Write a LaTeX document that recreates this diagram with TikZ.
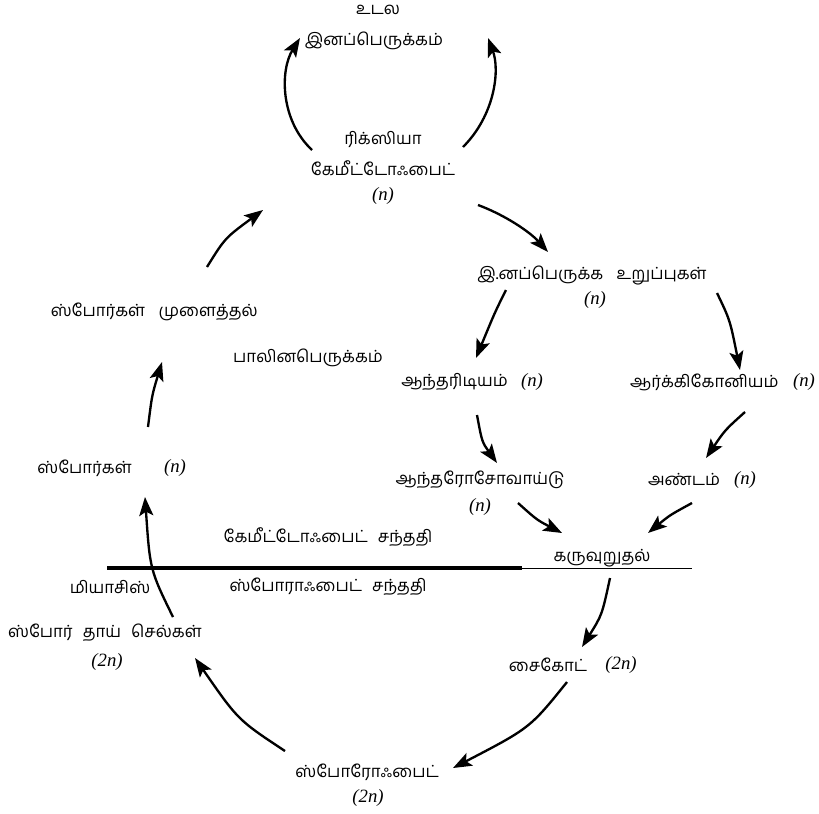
\documentclass[tikz,border=0pt]{standalone}
\usepackage{fontspec}
\setmainfont{Liberation Serif}
\newfontfamily\tamil[Script=Tamil]{Hind Madurai}
\usetikzlibrary{arrows.meta}
\tikzset{
  ta/.style={font=\tamil\fontsize{14.3}{16}\selectfont, inner sep=0pt},
  nn/.style={font=\fontsize{16}{17}\selectfont\itshape, inner sep=0pt},
  arr/.style={line width=2pt, -{Stealth[length=16pt,width=12pt,inset=3.5pt]}},
  genline/.style={line width=2.6pt},
  thinline/.style={line width=0.8pt}
}
\begin{document}
\begin{tikzpicture}[x=0.03cm,y=-0.03cm]
\useasboundingbox (0,0) rectangle (819,813);
% texts
\node[ta] (body1) at (378,10) {உடல};
\node[ta] (body2) at (374,41) {இனப்பெருக்கம்};
\node[ta] (ric) at (383,139) {ரிக்ஸியா};
\node[ta] (gam) at (383,168) {கேமீட்டோஃபைட்};
\node[nn] (gamn) at (383,196) {(n)};
\node[ta] (org) at (592,275) {இ.னப்பெருக்க\hspace{0.8em}உறுப்புகள்};
\node[nn] (orgn) at (595,300) {(n)};
\node[ta,anchor=east] (anth) at (508,382) {ஆந்தரிடியம்};
\node[nn] (anthn) at (532,382) {(n)};
\node[ta,anchor=west] (arch) at (630,382) {ஆர்க்கிகோனியம்};
\node[nn] (archn) at (804,382) {(n)};
\node[ta] (antz) at (480,480) {ஆந்தரோசோவாய்டு};
\node[nn] (antzn) at (480,507) {(n)};
\node[ta] (egg) at (684,480) {அண்டம்};
\node[nn] (eggn) at (745,480) {(n)};
\node[ta] (fert) at (602,558) {கருவுறுதல்};
\node[ta] (gen1) at (328,537) {கேமீட்டோஃபைட்\hspace{0.6em}சந்ததி};
\node[ta] (gen2) at (328,587) {ஸ்போராஃபைட்\hspace{0.6em}சந்ததி};
\node[ta] (meio) at (110,587) {மியாசிஸ்};
\node[ta,anchor=east] (smc) at (202,633) {ஸ்போர்\hspace{0.6em}தாய்\hspace{0.6em}செல்கள்};
\node[nn] (smcn) at (107,662) {(2n)};
\node[ta] (zyg) at (548,665) {சைகோட்};
\node[nn] (zygn) at (621,665) {(2n)};
\node[ta] (spo) at (367,772) {ஸ்போரோஃபைட்};
\node[nn] (spon) at (368,798) {(2n)};
\node[ta,anchor=east] (spores) at (132,468) {ஸ்போர்கள்};
\node[nn] (sporesn) at (175,468) {(n)};
\node[ta,anchor=east] (germ) at (258,312) {ஸ்போர்கள்\hspace{0.8em}முளைத்தல்};
\node[ta] (sex) at (308,358) {பாலினபெருக்கம்};
% generation lines
\coordinate (l1) at (107,568);
\coordinate (l2) at (522,568);
\coordinate (l3) at (692,568);
\draw[genline] (l1) -- (l2);
\draw[thinline] (l2) -- (l3);
% arrow end points
\coordinate (a1) at (312,150); \coordinate (a2) at (300,38);
\coordinate (b1) at (463,147); \coordinate (b2) at (488,38);
\coordinate (c1) at (478,205); \coordinate (c2) at (548,252);
\coordinate (d1) at (506,290); \coordinate (d2) at (476,358);
\coordinate (e1) at (717,293); \coordinate (e2) at (740,370);
\coordinate (f1) at (477,415); \coordinate (f2) at (497,463);
\coordinate (g1) at (745,412); \coordinate (g2) at (706,458);
\coordinate (h1) at (518,503); \coordinate (h2) at (562,533);
\coordinate (i1) at (692,503); \coordinate (i2) at (648,533);
\coordinate (j1) at (610,578); \coordinate (j2) at (582,647);
\coordinate (k1) at (567,682); \coordinate (k2) at (453,768);
\coordinate (m1) at (285,751); \coordinate (m2) at (195,658);
\coordinate (p1) at (173,617); \coordinate (p2) at (145,497);
\coordinate (q1) at (148,427); \coordinate (q2) at (162,362);
\coordinate (r1) at (207,267); \coordinate (r2) at (263,210);
% arrows
\draw[arr] (a1) .. controls (280,120) and (280,70) .. (a2);
\draw[arr] (b1) .. controls (495,115) and (500,70) .. (b2);
\draw[arr] (c1) .. controls (505,215) and (530,232) .. (c2);
\draw[arr] (d1) .. controls (495,312) .. (d2);
\draw[arr] (e1) .. controls (730,320) .. (e2);
\draw[arr] (f1) .. controls (482,442) .. (f2);
\draw[arr] (g1) .. controls (725,430) .. (g2);
\draw[arr] (h1) .. controls (537,520) .. (h2);
\draw[arr] (i1) .. controls (670,515) .. (i2);
\draw[arr] (j1) .. controls (602,615) .. (j2);
\draw[arr] (k1) .. controls (530,728) .. (k2);
\draw[arr] (m1) .. controls (238,720) .. (m2);
\draw[arr] (p1) .. controls (150,570) .. (p2);
\draw[arr] (q1) .. controls (152,395) .. (q2);
\draw[arr] (r1) .. controls (225,238) .. (r2);
\end{tikzpicture}
\end{document}
